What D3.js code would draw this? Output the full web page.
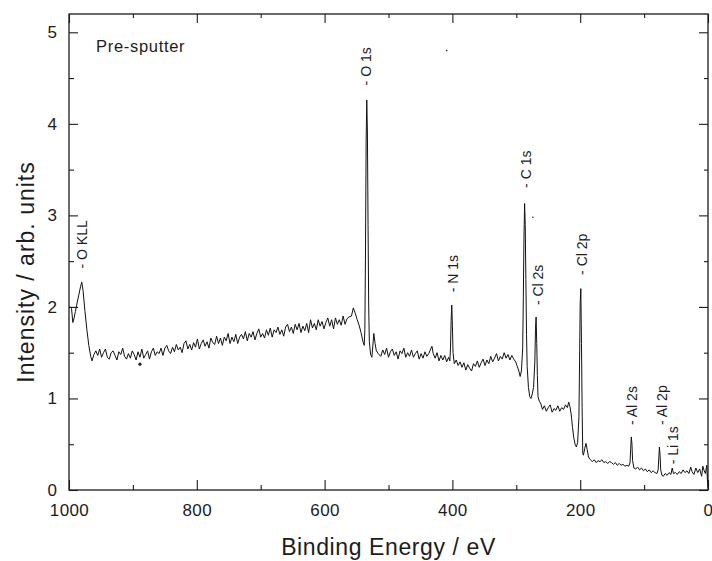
<!DOCTYPE html>
<html>
<head>
<meta charset="utf-8">
<script src="https://cdn.jsdelivr.net/npm/d3@7/dist/d3.min.js"></script>
<style>
  html, body { margin: 0; padding: 0; background: #fff; }
  svg text { font-family: "Liberation Sans", Arial, Helvetica, sans-serif; fill: #1c1c1c; }
  .tick line { stroke: #1c1c1c; stroke-width: 1.1; }
  .domain { display: none; }
</style>
</head>
<body>
<svg id="xps"></svg>
<script>
// survey spectrum, [binding energy eV, intensity arb. units]
var oKllRegion = [
  [1000, 2.00], [998, 2.00], [996, 1.98], [994, 1.83], [992, 1.88], [990, 1.95], [988, 2.02],
  [985, 2.12], [982, 2.22], [980, 2.27], [978, 2.18], [975, 1.95], [972, 1.75], [969, 1.58],
  [966, 1.46], [964, 1.41], [961, 1.48]
];
var slopeRegion = [
  [958, 1.52], [955, 1.47], [952, 1.54], [949, 1.45], [946, 1.50], [943, 1.54], [940, 1.45],
  [937, 1.43], [934, 1.50], [931, 1.52], [928, 1.47], [925, 1.42], [922, 1.51], [919, 1.48],
  [916, 1.55], [913, 1.46], [910, 1.43], [907, 1.49], [904, 1.44], [901, 1.52], [898, 1.48],
  [895, 1.42], [892, 1.51], [889, 1.45], [886, 1.54], [883, 1.44], [880, 1.48], [877, 1.52],
  [874, 1.43], [871, 1.51], [868, 1.55], [865, 1.47], [862, 1.51], [859, 1.49], [856, 1.55],
  [853, 1.47], [850, 1.55], [847, 1.58], [844, 1.52], [841, 1.49], [838, 1.56], [835, 1.51],
  [832, 1.59], [829, 1.53], [826, 1.56], [823, 1.50], [820, 1.60], [817, 1.63], [814, 1.54],
  [811, 1.59], [808, 1.53], [805, 1.61], [802, 1.56], [799, 1.65], [796, 1.54], [793, 1.60],
  [790, 1.64], [787, 1.57], [784, 1.62], [781, 1.55], [778, 1.66], [775, 1.61], [772, 1.59],
  [769, 1.68], [766, 1.60], [763, 1.66], [760, 1.58], [757, 1.67], [754, 1.63], [751, 1.71],
  [748, 1.60], [745, 1.67], [742, 1.62], [739, 1.70], [736, 1.60], [733, 1.67], [730, 1.70],
  [727, 1.65], [724, 1.73], [721, 1.63], [718, 1.71], [715, 1.67], [712, 1.73], [709, 1.64],
  [706, 1.71], [703, 1.76], [700, 1.67], [697, 1.71], [694, 1.66], [691, 1.75], [688, 1.69],
  [685, 1.77], [682, 1.67], [679, 1.75], [676, 1.72], [673, 1.78], [670, 1.70], [667, 1.75],
  [664, 1.68], [661, 1.78], [658, 1.81], [655, 1.73], [652, 1.78], [649, 1.71], [646, 1.81],
  [643, 1.75], [640, 1.82], [637, 1.72], [634, 1.79], [631, 1.74], [628, 1.82], [625, 1.72],
  [622, 1.86], [619, 1.77], [616, 1.82], [613, 1.75], [610, 1.86], [607, 1.79], [604, 1.84],
  [601, 1.76], [598, 1.83], [595, 1.88], [592, 1.79], [589, 1.86], [586, 1.76], [583, 1.88],
  [580, 1.81], [577, 1.86], [574, 1.80], [571, 1.90], [568, 1.81], [565, 1.87], [562, 1.89]
];
var o1sRegion = [
  [558, 1.90], [555, 1.99], [552, 1.93], [549, 1.86], [546, 1.80], [543, 1.72], [540, 1.62],
  [538, 1.58], [537, 1.75], [536, 2.60], [535, 3.80], [534, 4.26], [533, 3.90], [532, 2.90],
  [531, 2.00], [530, 1.62], [528, 1.48], [526, 1.45], [524, 1.62], [523, 1.71], [521, 1.60],
  [519, 1.52], [516, 1.49]
];
var n1sRegion = [
  [512, 1.46], [509, 1.53], [506, 1.48], [503, 1.55], [500, 1.45], [497, 1.51], [494, 1.54],
  [491, 1.47], [488, 1.51], [485, 1.43], [482, 1.52], [479, 1.49], [476, 1.55], [473, 1.45],
  [470, 1.50], [467, 1.46], [464, 1.53], [461, 1.45], [458, 1.49], [455, 1.52], [452, 1.43],
  [449, 1.49], [446, 1.44], [443, 1.51], [440, 1.46], [437, 1.49], [434, 1.54], [432, 1.57],
  [430, 1.49], [427, 1.44], [424, 1.50], [421, 1.41], [418, 1.47], [415, 1.42], [412, 1.47],
  [409, 1.40], [406, 1.45], [404, 1.41], [403, 1.55], [402, 1.85], [401, 2.02], [400, 1.80],
  [399, 1.50], [397, 1.38], [394, 1.42], [391, 1.36], [388, 1.40]
];
var c1sRegion = [
  [385, 1.34], [382, 1.39], [379, 1.31], [376, 1.37], [373, 1.33], [370, 1.30], [367, 1.38],
  [364, 1.35], [361, 1.41], [358, 1.34], [355, 1.39], [352, 1.43], [349, 1.36], [346, 1.42],
  [343, 1.38], [340, 1.46], [337, 1.40], [334, 1.44], [331, 1.49], [328, 1.41], [325, 1.46],
  [322, 1.43], [319, 1.50], [316, 1.44], [313, 1.48], [310, 1.42], [307, 1.47], [304, 1.43],
  [301, 1.40], [299, 1.36], [296, 1.30], [294, 1.24], [292, 1.30], [290, 1.55], [289, 2.10],
  [288, 2.75], [287, 3.13], [286, 2.90], [285, 2.30], [284, 1.70], [283, 1.35], [281, 1.12],
  [279, 1.02], [277, 1.00], [275, 1.05], [273, 1.12], [271, 1.40], [270, 1.75], [269, 1.89],
  [268, 1.60], [267, 1.25], [266, 1.02], [264, 0.97]
];
var cl2pRegion = [
  [262, 0.95], [259, 0.88], [256, 0.92], [253, 0.86], [250, 0.90], [247, 0.93], [244, 0.85],
  [241, 0.89], [238, 0.87], [235, 0.92], [232, 0.86], [229, 0.90], [226, 0.88], [223, 0.93],
  [220, 0.90], [218, 0.96], [216, 0.91], [214, 0.82], [212, 0.68], [210, 0.57], [208, 0.50],
  [206, 0.47], [204, 0.52], [202, 0.80], [201, 1.40], [200, 2.05], [199, 2.20], [198, 1.60],
  [197, 0.90], [196, 0.40], [195, 0.38], [193, 0.45], [191, 0.51], [189, 0.44], [187, 0.36],
  [184, 0.33]
];
var lowRegion = [
  [181, 0.31], [178, 0.33], [175, 0.30], [172, 0.32], [169, 0.31], [166, 0.33], [163, 0.30],
  [160, 0.31], [157, 0.29], [154, 0.31], [151, 0.30], [148, 0.28], [145, 0.30], [142, 0.27],
  [139, 0.29], [136, 0.27], [133, 0.28], [130, 0.26], [127, 0.27], [124, 0.26], [122, 0.30],
  [121, 0.45], [120, 0.58], [119, 0.50], [118, 0.32], [116, 0.24], [113, 0.23], [110, 0.25],
  [107, 0.22], [104, 0.24], [101, 0.21], [98, 0.23], [95, 0.20], [92, 0.22], [89, 0.19],
  [86, 0.21], [83, 0.19], [80, 0.18], [78, 0.22], [77, 0.35], [76, 0.47], [75, 0.38],
  [74, 0.22], [72, 0.16], [70, 0.15], [67, 0.18], [64, 0.16], [61, 0.19], [58, 0.17],
  [56, 0.24], [54, 0.18], [51, 0.19], [48, 0.17], [45, 0.20], [42, 0.18], [39, 0.22],
  [36, 0.19], [33, 0.21], [30, 0.18], [27, 0.25], [25, 0.20], [22, 0.17], [19, 0.24],
  [16, 0.19], [13, 0.23], [10, 0.15], [8, 0.26], [6, 0.21], [4, 0.18], [2, 0.27],
  [1, 0.12], [0, 0.03]
];

var peakNames = ['- O KLL', '- O 1s', '- N 1s', '- C 1s', '- Cl 2s', '- Cl 2p', '- Al 2s', '- Al 2p', '- Li 1s'];
var peakEnergies = [980, 535, 399, 285, 266, 197, 119, 72, 55];
var labelLevels = [2.42, 4.42, 2.16, 3.30, 2.02, 2.35, 0.71, 0.71, 0.28];

// dust specks on the original scan
var specks = [[889, 1.375], [274, 2.98], [409, 4.80]];

var xMajorTicks = [1000, 800, 600, 400, 200, 0];
var xMinorTicks = [900, 700, 500, 300, 100];
var yMajorTicks = [0, 1, 2, 3, 4, 5];
var yMinorTicks = [0.5, 1.5, 2.5, 3.5, 4.5];

var XpsSurvey = {

  width: 712,
  height: 561,
  margin: { top: 14, right: 4, bottom: 71, left: 69 },
  x: null,
  y: null,

  constructor: function () {
    var m = this.margin;
    this.x = d3.scaleLinear().domain([1000, 0]).range([m.left, this.width - m.right]);
    this.y = d3.scaleLinear().domain([0, 5.2]).range([this.height - m.bottom, m.top]);
  },

  buildAxes: function (svg) {
    var x = this.x, y = this.y, m = this.margin;
    var bottom = this.height - m.bottom, right = this.width - m.right;

    svg.append('g')
      .attr('transform', 'translate(0,' + bottom + ')')
      .call(d3.axisBottom(x).tickValues(xMajorTicks).tickSize(-10).tickPadding(14).tickFormat(d3.format('d')))
      .selectAll('text').style('font-size', '17px').style('letter-spacing', '0.4px').attr('fill', '#1c1c1c');
    svg.append('g')
      .attr('transform', 'translate(0,' + bottom + ')')
      .call(d3.axisBottom(x).tickValues(xMinorTicks).tickSize(-5).tickFormat(''));
    svg.append('g')
      .attr('transform', 'translate(0,' + m.top + ')')
      .call(d3.axisTop(x).tickValues(xMajorTicks).tickSize(-9).tickFormat(''));
    svg.append('g')
      .attr('transform', 'translate(0,' + m.top + ')')
      .call(d3.axisTop(x).tickValues(xMinorTicks).tickSize(-4).tickFormat(''));

    svg.append('g')
      .attr('transform', 'translate(' + m.left + ',0)')
      .call(d3.axisLeft(y).tickValues(yMajorTicks).tickSize(-9).tickPadding(12).tickFormat(d3.format('d')))
      .selectAll('text').style('font-size', '17px').attr('fill', '#1c1c1c');
    svg.append('g')
      .attr('transform', 'translate(' + m.left + ',0)')
      .call(d3.axisLeft(y).tickValues(yMinorTicks).tickSize(-5).tickFormat(''));
    svg.append('g')
      .attr('transform', 'translate(' + right + ',0)')
      .call(d3.axisRight(y).tickValues(yMajorTicks).tickSize(-9).tickFormat(''));
    svg.append('g')
      .attr('transform', 'translate(' + right + ',0)')
      .call(d3.axisRight(y).tickValues(yMinorTicks).tickSize(-4).tickFormat(''));

    svg.append('rect')
      .attr('x', m.left)
      .attr('y', m.top)
      .attr('width', right - m.left)
      .attr('height', bottom - m.top)
      .attr('fill', 'none')
      .attr('stroke', '#1c1c1c')
      .attr('stroke-width', 1.3);

    svg.append('text')
      .attr('x', (m.left + right) / 2)
      .attr('y', 555)
      .attr('text-anchor', 'middle')
      .style('font-size', '23px')
      .style('letter-spacing', '0.6px')
      .text('Binding Energy / eV');

    svg.append('text')
      .attr('transform', 'translate(34,272) rotate(-90)')
      .attr('text-anchor', 'middle')
      .style('font-size', '23px')
      .style('letter-spacing', '1px')
      .text('Intensity / arb. units');
  },

  buildChart: function () {
    var x = this.x, y = this.y;
    var svg = d3.select('#xps')
      .attr('width', this.width)
      .attr('height', this.height);

    svg.append('rect').attr('width', this.width).attr('height', this.height).attr('fill', '#fff');

    this.buildAxes(svg);

    var spectrum = [].concat(oKllRegion, slopeRegion, o1sRegion, n1sRegion, c1sRegion, cl2pRegion, lowRegion);
    var line = d3.line()
      .x(function (d) { return x(d[0]); })
      .y(function (d) { return y(d[1]); });

    svg.append('path')
      .datum(spectrum)
      .attr('d', line)
      .attr('fill', 'none')
      .attr('stroke', '#111')
      .attr('stroke-width', 1)
      .attr('stroke-linejoin', 'round');

    svg.selectAll('.peak-label')
      .data(peakNames)
      .enter()
      .append('text')
      .attr('class', 'peak-label')
      .attr('transform', function (d, i) {
        return 'translate(' + x(peakEnergies[i]) + ',' + y(labelLevels[i]) + ') rotate(-90)';
      })
      .attr('dy', '0.35em')
      .style('font-size', '14px')
      .text(function (d) { return d; });

    svg.selectAll('.speck')
      .data(specks)
      .enter()
      .append('circle')
      .attr('class', 'speck')
      .attr('cx', function (d) { return x(d[0]); })
      .attr('cy', function (d) { return y(d[1]); })
      .attr('r', function (d, i) { return i === 0 ? 1.6 : 0.8; })
      .attr('fill', '#222');

    svg.append('text')
      .attr('x', 96)
      .attr('y', 52)
      .style('font-size', '16.5px')
      .style('letter-spacing', '0.7px')
      .text('Pre-sputter');
  },

  init: function () {
    this.constructor();
    this.buildChart();
  }
};

XpsSurvey.init();
</script>
</body>
</html>
